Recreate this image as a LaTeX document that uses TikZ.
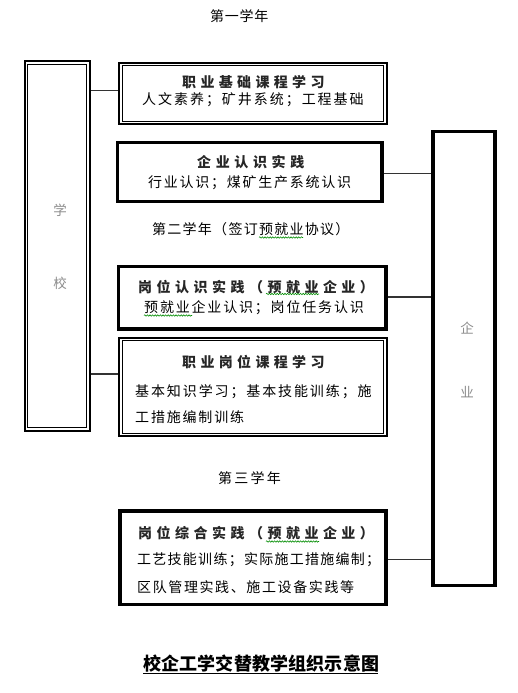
\documentclass[tikz,border=0pt]{standalone}
\usepackage{fontspec}
\newfontfamily\cjk{Noto Sans CJK SC}
\usetikzlibrary{calc,decorations.pathmorphing}
\newcommand\lsp[2]{{\addfontfeatures{LetterSpace=#1}#2}}
\tikzset{
  txt/.style={inner sep=0pt, anchor=west, font=\cjk\fontsize{14pt}{16pt}\selectfont},
  ttl/.style={inner sep=0pt, anchor=west, text=black!85, font=\cjk\bfseries\fontsize{14pt}{16pt}\selectfont},
  sidetxt/.style={inner sep=0pt, text=black!45, font=\cjk\fontsize{13.5pt}{16pt}\selectfont},
  thickbox/.style={draw, line width=3.2pt, inner sep=0pt},
  dblout/.style={draw, line width=2pt, inner sep=0pt},
  dblin/.style={draw, line width=1pt},
  link/.style={draw=black!80, line width=1.2pt},
  wavy/.style={draw=green!55!black, line width=0.6pt, decorate,
    decoration={snake, amplitude=0.7pt, segment length=2.6pt}},
}
\begin{document}
\begin{tikzpicture}[x=1pt,y=-1pt]
\useasboundingbox (0,0) rectangle (517,693);
\fill[white] (0,0) rectangle (517,693);

% boxes
\node[dblout, minimum width=65pt, minimum height=369pt] (school) at (57,246) {};
\draw[dblin] ($(school.north west)+(3.8,3.8)$) rectangle ($(school.south east)+(-3.8,-3.8)$);
\node[dblout, minimum width=267.5pt, minimum height=61.3pt] (b1) at (253,93.35) {};
\draw[dblin] ($(b1.north west)+(3.8,3.8)$) rectangle ($(b1.south east)+(-3.8,-3.8)$);
\node[thickbox, minimum width=264.5pt, minimum height=59pt] (b2) at (249.75,172) {};
\node[thickbox, minimum width=267.2pt, minimum height=62.5pt] (b3) at (252.4,297.75) {};
\node[dblout, minimum width=267.5pt, minimum height=98pt] (b4) at (253,387) {};
\draw[dblin] ($(b4.north west)+(3.8,3.8)$) rectangle ($(b4.south east)+(-3.8,-3.8)$);
\node[thickbox, minimum width=266pt, minimum height=93.7pt] (b5) at (253,557.85) {};
\node[thickbox, minimum width=62pt, minimum height=454.2pt] (ent) at (464,358.4) {};

% connectors
\draw[link] (school.east |- 0,90.7) -- (b1.west |- 0,90.7);
\draw[link] (school.east |- 0,374) -- (b4.west |- 0,374);
\draw[link] (b2.east |- 0,173.3) -- (ent.west |- 0,173.3);
\draw[link] (b3.east |- 0,297) -- (ent.west |- 0,297);
\draw[link] (b5.east |- 0,559.3) -- (ent.west |- 0,559.3);

% side labels
\node[sidetxt] (s1) at (60,210) {学};
\node[sidetxt] (s2) at (60,283) {校};
\node[sidetxt] (e1) at (467,328) {企};
\node[sidetxt] (e2) at (467,392) {业};

% year labels
\node[txt] (y1) at (210,16) {\lsp{5}{第一学年}};
\node[txt] (y2) at (152,229) {\lsp{9}{第二学年（签订预就业协议）}};
\node[txt] (y3) at (218,478) {\lsp{16}{第三学年}};

% box texts
\node[ttl] (t1a) at (182,82) {\lsp{31}{职业基础课程学习}};
\node[txt] (t1b) at (142,100) {\lsp{14}{人文素养；矿井系统；工程基础}};
\node[ttl] (t2a) at (197,162) {\lsp{33}{企业认识实践}};
\node[txt] (t2b) at (148,183) {\lsp{12.5}{行业认识；煤矿生产系统认识}};
\node[ttl] (t3a) at (138,287) {\lsp{32}{岗位认识实践（预就业企业）}};
\node[txt] (t3b) at (144,308) {\lsp{13}{预就业企业认识；岗位任务认识}};
\node[ttl] (t4a) at (182,362) {\lsp{31}{职业岗位课程学习}};
\node[txt] (t4b) at (135,392) {\lsp{13.5}{基本知识学习；基本技能训练；施}};
\node[txt] (t4c) at (135,417) {\lsp{13}{工措施编制训练}};
\node[ttl] (t5a) at (138,533) {\lsp{32}{岗位综合实践（预就业企业）}};
\node[txt] (t5b) at (137,560) {\lsp{9}{工艺技能训练；实际施工措施编制；}};
\node[txt] (t5c) at (137,587) {\lsp{11.5}{区队管理实践、施工设备实践等}};

% spell-check marks
\draw[wavy] (259,237.5) -- (303,237.5);
\draw[wavy] (266,294) -- (319,294);
\draw[wavy] (144,315.5) -- (192,315.5);
\draw[wavy] (266,541.5) -- (319,541.5);

% caption
\node[inner sep=0pt, anchor=west, font=\cjk\bfseries\fontsize{18pt}{20pt}\selectfont] (cap) at (143,664) {\lsp{1}{校企工学交替教学组织示意图}};
\draw[line width=1.2pt] (cap.west |- 0,673.5) -- (378,673.5);
\end{tikzpicture}
\end{document}
